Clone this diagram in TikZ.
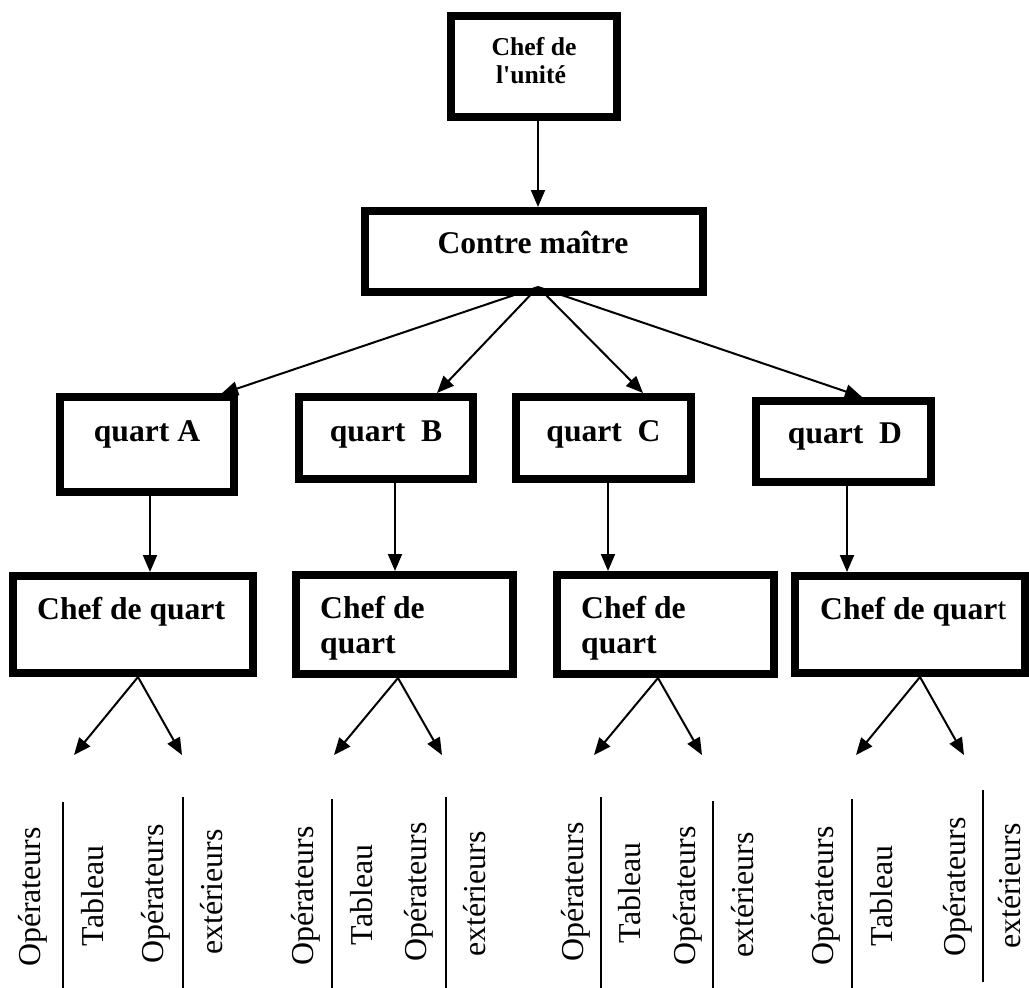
\documentclass[tikz,border=0pt]{standalone}
\usepackage{fontspec}
\setmainfont{Liberation Serif}
\usetikzlibrary{arrows.meta,calc}
\begin{document}
\begin{tikzpicture}[x=1pt,y=-1pt,
  box/.style={draw, line width=8pt, inner sep=0pt, rectangle},
  arr/.style={line width=2pt, -{Triangle[length=17pt,width=14pt]}},
  sep/.style={line width=2pt},
  blbl/.style={font=\bfseries\fontsize{31.6}{36}\selectfont, inner sep=0pt},
  sblbl/.style={font=\bfseries\fontsize{25.7}{28}\selectfont, inner sep=0pt},
  vlab/.style={rotate=90, anchor=base, inner sep=0pt, font=\fontsize{31.9}{36}\selectfont}]
\useasboundingbox (0,0) rectangle (1029,988);

% boxes
\node[box, minimum width=166pt, minimum height=101pt] (top) at (534,66.5) {};
\node[box, minimum width=338pt, minimum height=81pt] (contre) at (534,251.5) {};
\node[box, minimum width=174pt, minimum height=95pt] (qA) at (147,444.5) {};
\node[box, minimum width=174pt, minimum height=82pt] (qB) at (386,438) {};
\node[box, minimum width=175pt, minimum height=82pt] (qC) at (603.5,438) {};
\node[box, minimum width=175pt, minimum height=81pt] (qD) at (843.5,441.5) {};
\node[box, minimum width=240pt, minimum height=97pt] (cA) at (133,624.5) {};
\node[box, minimum width=217pt, minimum height=99pt] (cB) at (404.5,624.5) {};
\node[box, minimum width=217pt, minimum height=99pt] (cC) at (665.5,624.5) {};
\node[box, minimum width=230pt, minimum height=97pt] (cD) at (910,624.5) {};

% texts in boxes
\node[sblbl, anchor=base] (t1) at (534,55) {Chef de};
\node[sblbl, anchor=base] (t2) at (531,83) {l\textquotesingle unité};
\node[blbl, anchor=base] (tc) at (533,253) {Contre maître};
\node[blbl, anchor=base] (tqA) at (147,441) {quart A};
\node[blbl, anchor=base] (tqB) at (386,441) {quart\ \ B};
\node[blbl, anchor=base] (tqC) at (603.5,441) {quart\ \ C};
\node[blbl, anchor=base] (tqD) at (845,443) {quart\ \ D};
\node[blbl, anchor=base west] (tcA) at (37,619) {Chef de quart};
\node[blbl, anchor=base west] (tcB1) at (320,618) {Chef de};
\node[blbl, anchor=base west] (tcB2) at (320,653) {quart};
\node[blbl, anchor=base west] (tcC1) at (581,618) {Chef de};
\node[blbl, anchor=base west] (tcC2) at (581,653) {quart};
\node[blbl, anchor=base west] (tcD) at (820,619) {Chef de quar\textmd{t}};

% connectors top
\coordinate (apex) at (538,287);
\draw[arr] (top.south -| apex) -- (contre.north -| apex);
\draw[arr] (apex) -- ([xshift=-17pt,yshift=-1pt]qA.north east);
\draw[arr] (apex) -- ([xshift=51pt]qB.north);
\draw[arr] (apex) -- ([xshift=39.5pt]qC.north);
\draw[arr] (apex) -- ([xshift=18.5pt]qD.north);

% quart -> chef
\draw[arr] ([xshift=3pt]qA.south) -- ([xshift=3pt]qA.south |- cA.north);
\draw[arr] ([xshift=9pt]qB.south) -- ([xshift=9pt]qB.south |- cB.north);
\draw[arr] ([xshift=4.5pt]qC.south) -- ([xshift=4.5pt]qC.south |- cC.north);
\draw[arr] ([xshift=3.5pt]qD.south) -- ([xshift=3.5pt]qD.south |- cD.north);

% chef -> operators
\coordinate (aL) at (74,755);  \coordinate (aR) at (182,755);
\coordinate (bL) at (334,755); \coordinate (bR) at (442,755);
\coordinate (cL) at (594,755); \coordinate (cR) at (702,755);
\coordinate (dL) at (856,755); \coordinate (dR) at (964,755);
\draw[arr] ([xshift=5pt]cA.south) -- (aL);
\draw[arr] ([xshift=5pt]cA.south) -- (aR);
\draw[arr] ([xshift=-6.5pt]cB.south) -- (bL);
\draw[arr] ([xshift=-6.5pt]cB.south) -- (bR);
\draw[arr] ([xshift=-7.5pt]cC.south) -- (cL);
\draw[arr] ([xshift=-7.5pt]cC.south) -- (cR);
\draw[arr] ([xshift=10pt]cD.south) -- (dL);
\draw[arr] ([xshift=10pt]cD.south) -- (dR);

% bottom vertical labels
\node[vlab] (a1) at (40,897) {Opérateurs};
\node[vlab] (a2) at (103,896) {Tableau};
\node[vlab] (a3) at (163,894) {Opérateurs};
\node[vlab] (a4) at (222,892) {extérieurs};
\node[vlab] (b1) at (313,896) {Opérateurs};
\node[vlab] (b2) at (372,895) {Tableau};
\node[vlab] (b3) at (426,892) {Opérateurs};
\node[vlab] (b4) at (485,894) {extérieurs};
\node[vlab] (c1) at (583,892) {Opérateurs};
\node[vlab] (c2) at (640,893) {Tableau};
\node[vlab] (c3) at (695,896) {Opérateurs};
\node[vlab] (c4) at (753,895) {extérieurs};
\node[vlab] (d1) at (833,896) {Opérateurs};
\node[vlab] (d2) at (892,896) {Tableau};
\node[vlab] (d3) at (965,887) {Opérateurs};
\node[vlab] (d4) at (1020,886) {extérieurs};

% separators
\draw[sep] (63,802) -- (63,990);
\draw[sep] (183,797) -- (183,990);
\draw[sep] (332,799) -- (332,990);
\draw[sep] (446,797) -- (446,990);
\draw[sep] (601,797) -- (601,990);
\draw[sep] (713,801) -- (713,990);
\draw[sep] (852,799) -- (852,990);
\draw[sep] (983,790) -- (983,982);
\end{tikzpicture}
\end{document}
